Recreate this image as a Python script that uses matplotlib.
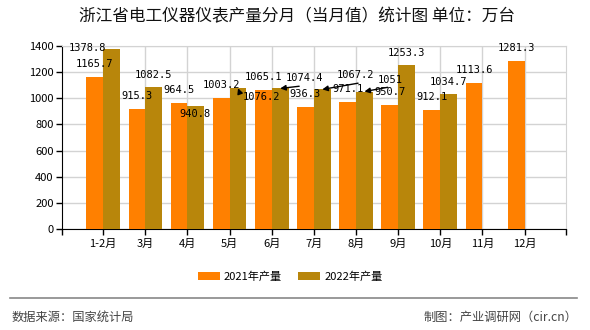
import matplotlib
matplotlib.use("Agg")
import matplotlib.pyplot as plt
import numpy as np

plt.rcParams['font.family'] = ['Noto Sans CJK SC', 'DejaVu Sans']

categories = ['1-2月', '3月', '4月', '5月', '6月', '7月', '8月', '9月', '10月', '11月', '12月']
prod_2021 = [1165.7, 915.3, 964.5, 1003.2, 1065.1, 936.3, 971.1, 950.7, 912.1, 1113.6, 1281.3]
prod_2022 = [1378.8, 1082.5, 940.8, 1076.2, 1074.4, 1067.2, 1051, 1253.3, 1034.7, None, None]
yticks = [0, 200, 400, 600, 800, 1000, 1200, 1400]

c21 = '#FF8000'
c22 = '#B8860B'

fig = plt.figure(figsize=(5.9, 3.3), dpi=100)
ax = fig.add_axes([0.105, 0.306, 0.854, 0.555])

x = np.arange(len(categories))
w = 0.4
ax.bar(x - w / 2, prod_2021, w, color=c21, zorder=3, label='2021年产量')
x22 = [i for i, v in enumerate(prod_2022) if v is not None]
v22 = [v for v in prod_2022 if v is not None]
ax.bar(np.array(x22) + w / 2, v22, w, color=c22, zorder=3, label='2022年产量')

ax.set_xlim(-0.98, 10.98)
ax.set_ylim(0, 1400)
ax.set_yticks(yticks)
ax.set_xticks(list(x))
ax.set_xticklabels(categories, fontsize=8)
ax.tick_params(axis='y', labelsize=8, length=4, width=1, direction='out', pad=2)
ax.tick_params(axis='x', length=4, width=1, direction='out', pad=3)
ax.set_xticks([-0.98, 10.98], minor=True)
ax.tick_params(axis='x', which='minor', length=4, width=1)
ax.grid(True, color='#d3d3d3', lw=1, zorder=0)
ax.set_axisbelow(True)
for s in ['top', 'right']:
    ax.spines[s].set_color('#d3d3d3')
for s in ['left', 'bottom']:
    ax.spines[s].set_color('black')

lblfont = dict(family='DejaVu Sans Mono', fontsize=7.5, color='black')

def label(xv, yv, txt, dx=0, dy=12, arrow=None):
    kw = {}
    if arrow is not None:
        kw['arrowprops'] = arrow
    ax.annotate(txt, xy=(xv, yv), xytext=(dx, dy), textcoords='offset pixels',
                ha='center', va='center', zorder=5, **lblfont, **kw)

def fmt(v):
    s = ('%.1f' % v)
    return s[:-2] if s.endswith('.0') else s

# 2021 labels
for i, v in enumerate(prod_2021):
    label(i - w / 2, v, fmt(v), 0, 13)

# 2022 labels with custom offsets
offsets22 = {0: (-24, 1), 2: (-1, -8), 3: (23, -9), 4: (24, 10), 5: (33, 14), 6: (26, 12)}
arrows22 = {3, 4, 5, 6}
for i, v in zip(x22, v22):
    dx, dy = offsets22.get(i, (0, 12))
    arr = None
    if i in arrows22:
        arr = dict(arrowstyle='-|>', color='black', lw=1, shrinkA=0, shrinkB=0,
                   mutation_scale=8, relpos=(1, 0),
                   connectionstyle='angle,angleA=0,angleB=110,rad=0' if i == 3
                   else 'arc3,rad=0')
    label(i + w / 2, v, fmt(v), dx, dy, arr)

fig.text(0.503, 0.948, '浙江省电工仪器仪表产量分月（当月值）统计图 单位：万台',
         ha='center', va='center', fontsize=12, color='#111111')

leg = fig.legend(loc='center', bbox_to_anchor=(0.492, 0.161), ncol=2, frameon=False,
                 fontsize=8, handlelength=2.0, handleheight=0.72, columnspacing=1.45,
                 handletextpad=0.36)

fig.add_artist(plt.Line2D([0.017, 0.978], [0.097, 0.097], color='#888888', lw=1.2,
                          transform=fig.transFigure))
fig.text(0.02, 0.039, '数据来源：国家统计局', ha='left', va='center', fontsize=8.8, color='#444444')
fig.text(0.978, 0.039, '制图：产业调研网（cir.cn）', ha='right', va='center', fontsize=8.8,
         color='#444444')

fig.savefig('out.png', dpi=100)
